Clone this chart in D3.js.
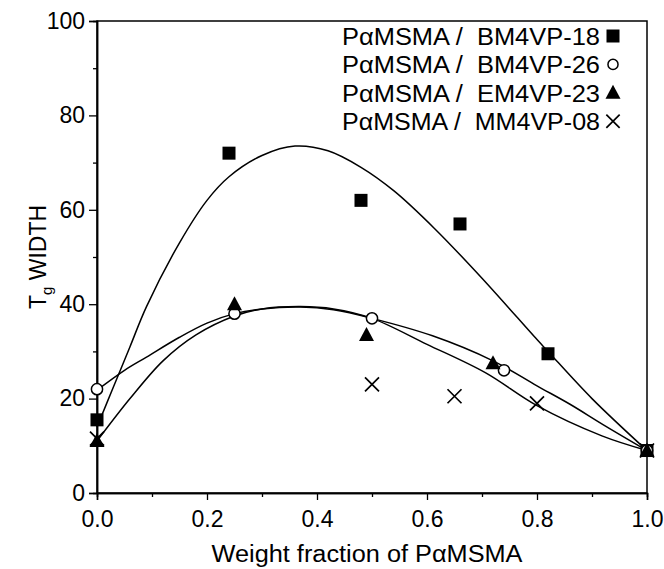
<!DOCTYPE html>
<html><head><meta charset="utf-8">
<script src="https://cdn.jsdelivr.net/npm/d3@7/dist/d3.min.js"></script>
<style>body{margin:0;background:#fff}svg{display:block}text{font-family:"Liberation Sans",Arial,sans-serif;fill:#000}</style>
</head><body><svg id="c" width="664" height="569"></svg>
<script>
// Data points
const bm18 = [[0,15.5],[0.24,72],[0.48,62],[0.66,57],[0.82,29.5],[1.0,9]];
const bm26 = [[0,22],[0.25,38],[0.5,37],[0.74,26],[1.0,9]];
const em23 = [[0,11],[0.25,40],[0.49,33.5],[0.72,27.5],[1.0,9]];
const mm08 = [[0,11.5],[0.5,23],[0.65,20.5],[0.8,19],[1.0,9]];
// Fitted curves
const fitBM18 = [[0,14],[0.03,22.5],[0.06,31],[0.09,39.5],[0.15,53],[0.2,62],[0.24,67],[0.3,71.5],[0.36,73.5],[0.42,72.5],[0.48,69],[0.54,64],[0.614,56],[0.7,45.5],[0.8,32.5],[0.82,30],[0.9,20],[1,9]];
const fitBM26 = [[0,21.8],[0.05,26],[0.09,28.8],[0.15,33],[0.2,36],[0.25,38],[0.3,39],[0.37,39.4],[0.43,38.8],[0.5,37],[0.61,33.3],[0.72,28],[0.8,22.7],[0.86,18.8],[0.92,14.5],[1,9]];
const fitEM23 = [[0,11],[0.06,20],[0.12,28],[0.18,33.5],[0.25,37.5],[0.3,39],[0.37,39.5],[0.43,39],[0.5,37],[0.6,31.5],[0.706,25.5],[0.8,18.5],[0.918,12.1],[1,9]];
const xTicks = [0,0.2,0.4,0.6,0.8,1.0];
const yTicks = [0,20,40,60,80,100];
const legendLabels = ["PαMSMA /  BM4VP-18","PαMSMA /  BM4VP-26","PαMSMA /  EM4VP-23","PαMSMA /  MM4VP-08"];

const svg = d3.select("#c");
const x = d3.scaleLinear().domain([0,1]).range([97,647]);
const y = d3.scaleLinear().domain([0,100]).range([493,21]);

// frame
svg.append("rect").attr("x",97).attr("y",21).attr("width",550).attr("height",472)
  .attr("fill","none").attr("stroke","#000").attr("stroke-width",1.5);

// axes
const xa = svg.append("g").attr("transform","translate(0,493)")
  .call(d3.axisBottom(x).tickValues(xTicks).tickFormat(d3.format(".1f")).tickSize(7).tickPadding(4));
svg.append("g").attr("transform","translate(0,493)")
  .call(d3.axisBottom(x).tickValues([0.1,0.3,0.5,0.7,0.9]).tickFormat("").tickSize(4));
const ya = svg.append("g").attr("transform","translate(97,0)")
  .call(d3.axisLeft(y).tickValues(yTicks).tickSize(8).tickPadding(4));
svg.append("g").attr("transform","translate(97,0)")
  .call(d3.axisLeft(y).tickValues([10,30,50,70,90]).tickFormat("").tickSize(4));
svg.selectAll(".domain").attr("stroke-width",1.5);
svg.selectAll(".tick line").attr("stroke-width",1.3);
svg.selectAll(".tick text").attr("font-size",23).style("font-family","'Liberation Sans',Arial,sans-serif");
xa.selectAll(".tick text").attr("dy","1.0em");

// axis titles
svg.append("text").attr("x",367).attr("y",562).attr("text-anchor","middle").attr("font-size",23)
  .attr("textLength",311).attr("lengthAdjust","spacingAndGlyphs")
  .text("Weight fraction of PαMSMA");
const yt = svg.append("text").attr("transform","translate(46,257) rotate(-90)").attr("text-anchor","middle").attr("font-size",23);
yt.append("tspan").text("T");
yt.append("tspan").attr("font-size",15).attr("dy",6).text("g");
yt.append("tspan").attr("dy",-6).text(" WIDTH");

// curves
const line = d3.line().x(d=>x(d[0])).y(d=>y(d[1])).curve(d3.curveCatmullRom);
[fitBM18,fitBM26,fitEM23].forEach(c=>{
  svg.append("path").attr("d",line(c)).attr("fill","none").attr("stroke","#000").attr("stroke-width",1.5);
});

// markers
function marker(g,type,cx,cy,s){
  s = s||1;
  if(type==="sq") g.append("rect").attr("x",cx-6.5*s).attr("y",cy-6.5*s).attr("width",13*s).attr("height",13*s).attr("fill","#000");
  else if(type==="ci") g.append("circle").attr("cx",cx).attr("cy",cy).attr("r",5.6*s).attr("fill","#fff").attr("stroke","#000").attr("stroke-width",1.5);
  else if(type==="tr") g.append("path").attr("d",`M${cx},${cy-8*s}L${cx+7.5*s},${cy+6*s}L${cx-7.5*s},${cy+6*s}Z`).attr("fill","#000");
  else if(type==="x") g.append("path").attr("d",`M${cx-7*s},${cy-7*s}L${cx+7*s},${cy+7*s}M${cx+7*s},${cy-7*s}L${cx-7*s},${cy+7*s}`).attr("stroke","#000").attr("stroke-width",1.7);
}
const mg = svg.append("g");
mm08.forEach(d=>marker(mg,"x",x(d[0]),y(d[1])));
bm18.forEach(d=>marker(mg,"sq",x(d[0]),y(d[1])));
bm26.forEach(d=>marker(mg,"ci",x(d[0]),y(d[1])));
em23.forEach(d=>marker(mg,"tr",x(d[0]),y(d[1])));

// legend
const types = ["sq","ci","tr","x"];
legendLabels.forEach((t,i)=>{
  const yy = 45 + i*28.4;
  svg.append("text").attr("x",342).attr("y",yy).attr("font-size",23)
    .attr("textLength",258).attr("lengthAdjust","spacingAndGlyphs")
    .style("white-space","pre").text(t);
  marker(svg,types[i],613,yy-9, types[i]==="ci"?0.9:(types[i]==="x"?0.95:1));
});
</script></body></html>
